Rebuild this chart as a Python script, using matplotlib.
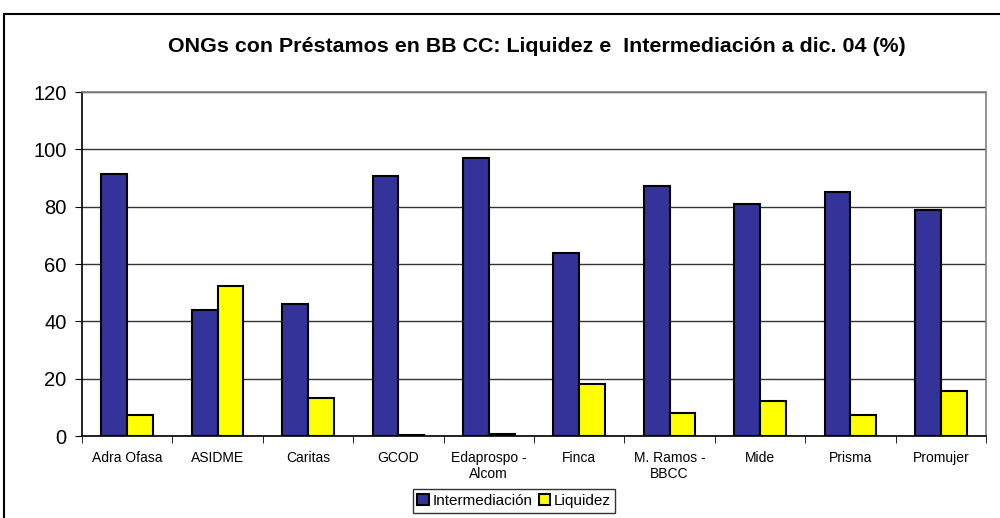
import matplotlib
matplotlib.use("Agg")
import matplotlib.pyplot as plt
import numpy as np
from matplotlib.patches import Rectangle

plt.rcParams['font.family'] = ['Liberation Sans', 'DejaVu Sans']

categories = ["Adra Ofasa", "ASIDME", "Caritas", "GCOD", "Edaprospo -\nAlcom", "Finca",
              "M. Ramos -\nBBCC", "Mide", "Prisma", "Promujer"]
intermediacion = [91.4, 43.9, 45.9, 90.8, 97.1, 63.7, 87.1, 80.9, 85.2, 78.8]
liquidez = [7.3, 52.4, 13.1, 0.3, 0.7, 18.3, 7.9, 12.2, 7.4, 15.8]
series_names = ["Intermediación", "Liquidez"]
yticks = [0, 20, 40, 60, 80, 100, 120]
title = "ONGs con Préstamos en BB CC: Liquidez e  Intermediación a dic. 04 (%)"

fig = plt.figure(figsize=(10, 5.18), dpi=100)
fig.patch.set_facecolor('white')
fig.patches.append(Rectangle((0.004, -0.05), 1.2, 1 - 14/518 + 0.05, transform=fig.transFigure,
                             fill=False, edgecolor='black', linewidth=1.5, zorder=0))

ax = fig.add_axes([0.082, 1 - 436/518, 0.904, (436 - 92)/518])
x = np.arange(len(categories))
w = 0.285
ax.bar(x - w/2, intermediacion, width=w, color='#333399', edgecolor='black', linewidth=1.5,
       label=series_names[0], zorder=3)
ax.bar(x + w/2, liquidez, width=w, color='#FFFF00', edgecolor='black', linewidth=1.5,
       label=series_names[1], zorder=3)

ax.set_xlim(-0.5, len(categories) - 0.5)
ax.set_ylim(0, 120)
ax.set_yticks(yticks)
ax.set_yticklabels([str(v) for v in yticks], fontsize=14.5)
ax.yaxis.grid(True, color='#333333', linewidth=1.0, zorder=0)
ax.set_axisbelow(True)

ax.set_xticks(x)
ax.set_xticklabels(categories, fontsize=10, linespacing=1.15)
ax.tick_params(axis='x', which='major', length=0, pad=11)
ax.set_xticks(np.arange(-0.5, len(categories)), minor=True)
ax.tick_params(axis='x', which='minor', length=5, direction='out', color='black')
ax.tick_params(axis='y', length=5, direction='out', color='black', pad=6)

ax.spines['left'].set_color('black')
ax.spines['bottom'].set_color('black')
ax.spines['top'].set_color('#808080')
ax.spines['right'].set_color('#808080')
for s in ax.spines.values():
    s.set_linewidth(1.2)

fig.text(0.5365, 1 - 46/518, title, ha='center', va='center', fontsize=15.4, fontweight='bold')

leg = fig.legend(loc='center', bbox_to_anchor=(0.514, 1 - 501/518), ncol=2, fontsize=11,
                 frameon=True, fancybox=False, edgecolor='black', handlelength=0.75,
                 handleheight=0.75, handletextpad=0.25, columnspacing=0.4, borderpad=0.3,
                 borderaxespad=0)
leg.get_frame().set_linewidth(1.0)

fig.savefig("out.png", dpi=100)
